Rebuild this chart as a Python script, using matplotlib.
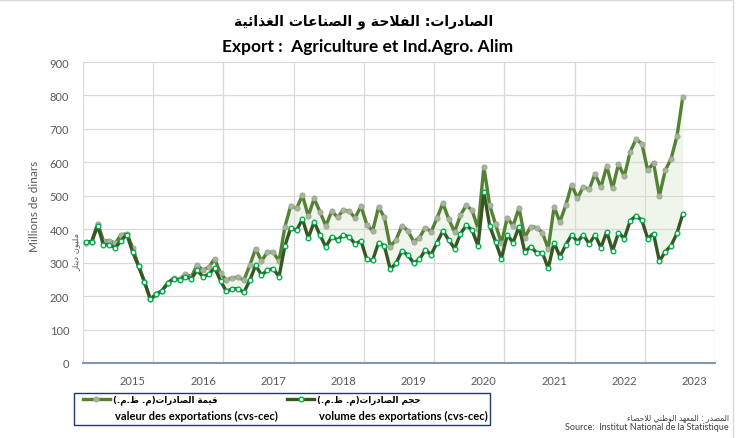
import numpy as np
import matplotlib
matplotlib.use("Agg")
import matplotlib.pyplot as plt
from matplotlib.lines import Line2D
from matplotlib.patches import Rectangle

matplotlib.rcParams.update({
    "font.family": ["Lato", "DejaVu Sans"],
    "font.size": 8,
    "axes.edgecolor": "#8497B0",
    "xtick.color": "#595959",
    "ytick.color": "#595959",
})

# monthly data, May 2014 -> Nov 2022 (million TND, cvs-cec)
valeur = [360, 363, 417, 365, 366, 358, 383, 387, 344, 290, 243, 192,
          205, 216, 240, 253, 250, 266, 258, 292, 278, 286, 312, 268,
          248, 255, 256, 248, 292, 342, 305, 331, 331, 305, 407, 470,
          462, 502, 439, 492, 452, 410, 454, 436, 457, 454, 434, 469,
          414, 395, 466, 436, 348, 369, 410, 396, 363, 375, 405, 392,
          434, 478, 430, 392, 442, 472, 456, 402, 587, 472, 415, 358,
          435, 410, 464, 375, 408, 405, 390, 342, 467, 422, 472, 533,
          493, 527, 519, 566, 525, 589, 522, 595, 558, 631, 669, 656,
          576, 599, 499, 576, 611, 678, 796]
volume = [362, 363, 410, 354, 354, 344, 366, 384, 331, 289, 243, 190,
          205, 216, 239, 252, 248, 258, 252, 277, 258, 265, 284, 246,
          214, 222, 222, 211, 247, 292, 263, 277, 282, 258, 350, 404,
          397, 430, 374, 422, 382, 347, 378, 368, 383, 377, 356, 365,
          310, 307, 360, 350, 281, 298, 335, 323, 299, 310, 338, 324,
          360, 395, 368, 342, 386, 412, 397, 350, 511, 410, 362, 312,
          383, 360, 408, 332, 348, 330, 330, 283, 360, 318, 353, 383,
          363, 383, 356, 383, 345, 392, 335, 390, 372, 425, 440, 427,
          372, 387, 304, 333, 351, 388, 446]
years = ["2015", "2016", "2017", "2018", "2019", "2020", "2021", "2022", "2023"]
year_pos = [8, 20, 32, 44, 56, 68, 80, 92, 104]   # January of each year
n_months = 108

# ---------------------------------------------------------------------------
# minimal Arabic shaping (presentation forms + visual order)
# ---------------------------------------------------------------------------
DUAL = {"ئ": 0xFE89, "ب": 0xFE8F, "ت": 0xFE95, "ث": 0xFE99, "ج": 0xFE9D,
        "ح": 0xFEA1, "خ": 0xFEA5, "س": 0xFEB1, "ش": 0xFEB5, "ص": 0xFEB9,
        "ض": 0xFEBD, "ط": 0xFEC1, "ظ": 0xFEC5, "ع": 0xFEC9, "غ": 0xFECD,
        "ف": 0xFED1, "ق": 0xFED5, "ك": 0xFED9, "ل": 0xFEDD, "م": 0xFEE1,
        "ن": 0xFEE5, "ه": 0xFEE9, "ي": 0xFEF1}
RIGHT = {"آ": 0xFE81, "أ": 0xFE83, "ؤ": 0xFE85, "إ": 0xFE87, "ا": 0xFE8D,
         "ة": 0xFE93, "د": 0xFEA9, "ذ": 0xFEAB, "ر": 0xFEAD, "ز": 0xFEAF,
         "و": 0xFEED, "ى": 0xFEEF}
LAM_ALEF = {"ا": 0xFEFB, "أ": 0xFEF7, "إ": 0xFEF9, "آ": 0xFEF5}


def ar(s):
    res, prev_dual, i = [], False, 0
    while i < len(s):
        c = s[i]
        nxt = s[i + 1] if i + 1 < len(s) else ""
        if c == "ل" and nxt in LAM_ALEF:
            res.append(chr(LAM_ALEF[nxt] + (1 if prev_dual else 0)))
            prev_dual = False
            i += 2
            continue
        if c in DUAL:
            nj = nxt in DUAL or nxt in RIGHT
            b = DUAL[c]
            f = b + 3 if (prev_dual and nj) else b + 1 if prev_dual else b + 2 if nj else b
            res.append(chr(f))
            prev_dual = True
        elif c in RIGHT:
            res.append(chr(RIGHT[c] + (1 if prev_dual else 0)))
            prev_dual = False
        elif c == "ء":
            res.append("\uFE80")
            prev_dual = False
        else:
            res.append(c)
            prev_dual = False
        i += 1
    return "".join(reversed(res)).translate(str.maketrans("()", ")("))


W, H = 737, 439
fig = plt.figure(figsize=(W / 100, H / 100), dpi=100)


def fx(x):
    return x / W


def fy(y):
    return 1 - y / H


# chart frame
fig.patches.append(Rectangle((fx(-5), fy(440)), fx(738), fy(1) - fy(440),
                             transform=fig.transFigure, fill=False,
                             edgecolor="#D9D9D9", lw=1))

ax = fig.add_axes([fx(83), fy(364), fx(715) - fx(83), fy(63) - fy(364)])

x = np.arange(len(valeur))
C_VAL = "#548235"
C_VOL = "#375623"

ax.fill_between(x, volume, valeur, color="#DCEBD2", alpha=0.45, lw=0, zorder=1)
ax.plot(x, valeur, color=C_VAL, lw=2.4, marker="o", ms=3.6,
        mfc="#A9B49F", mec="#A0AC95", mew=0.8, zorder=3)
ax.plot(x, volume, color=C_VOL, lw=2.4, marker="o", ms=3.3,
        mfc="white", mec="#00B050", mew=1.0, zorder=4)

ax.set_xlim(-0.5, n_months - 0.5)
ax.set_ylim(0, 900)
ax.set_yticks(np.arange(0, 901, 100))
ax.set_xticks(year_pos)
ax.set_xticklabels(years)
ax.set_xticks(np.arange(-0.5, n_months, 12), minor=True)
ax.tick_params(axis="both", which="both", length=0, labelsize=8)
ax.tick_params(axis="x", pad=9)
ax.tick_params(axis="y", pad=10)
ax.grid(True, axis="y", color="#D9D9D9", lw=0.9, zorder=0)
ax.grid(True, axis="x", which="minor", color="#D9D9D9", lw=0.9, zorder=0)
for s in ["top", "right", "left"]:
    ax.spines[s].set_visible(False)
ax.spines["bottom"].set_linewidth(1.5)
ax.spines["bottom"].set_zorder(5)

# axis titles
fig.text(fx(35), fy(206), "Millions de dinars", rotation=90, ha="center",
         va="center", fontsize=8.5, color="#595959")
fig.text(fx(76), fy(252), ar("مليون دينار"), rotation=90, ha="center",
         va="center", fontsize=6, color="#595959", family=["DejaVu Sans"])

# titles
fig.text(fx(364), fy(22), ar("الصادرات: الفلاحة و الصناعات الغذائية"),
         ha="center", va="center", fontsize=10, fontweight="bold",
         family=["DejaVu Sans"])
fig.text(fx(368), fy(47), "Export :  Agriculture et Ind.Agro. Alim",
         ha="center", va="center", fontsize=12.5, fontweight="bold")

# legend
fig.patches.append(Rectangle((fx(74), fy(426)), fx(490) - fx(74), fy(394) - fy(426),
                             transform=fig.transFigure, fill=False,
                             edgecolor="#203864", lw=1))
for x0, col, mfc, mec, ar_lab, fr_lab in [
    (83, C_VAL, "#A9B49F", "#A0AC95", "قيمة الصادرات(م. ظ.م.)",
     "valeur des exportations (cvs-cec)"),
    (287, C_VOL, "white", "#00B050", "حجم الصادرات(م. ظ.م.)",
     "volume des exportations (cvs-cec)"),
]:
    fig.add_artist(Line2D([fx(x0), fx(x0 + 27)], [fy(400), fy(400)],
                          transform=fig.transFigure, color=col, lw=2.4))
    fig.add_artist(Line2D([fx(x0 + 13.5)], [fy(400)], transform=fig.transFigure,
                          marker="o", ms=3.3, mfc=mfc, mec=mec, mew=1))
    fig.text(fx(x0 + 30), fy(400), ar(ar_lab), ha="left", va="center",
             fontsize=6.2, fontweight="bold", family=["DejaVu Sans"])
    fig.text(fx(x0 + 32), fy(416), fr_lab, ha="left", va="center",
             fontsize=8, fontweight="bold")

# source
fig.text(fx(729), fy(418), ar("المصدر : المعهد الوطني للاحصاء"), ha="right",
         va="center", fontsize=5.5, color="#404040", family=["DejaVu Sans"])
fig.text(fx(729), fy(428), "Source:  Institut National de la Statistique",
         ha="right", va="center", fontsize=6.5, color="#404040")

fig.savefig("out.png", dpi=100)
